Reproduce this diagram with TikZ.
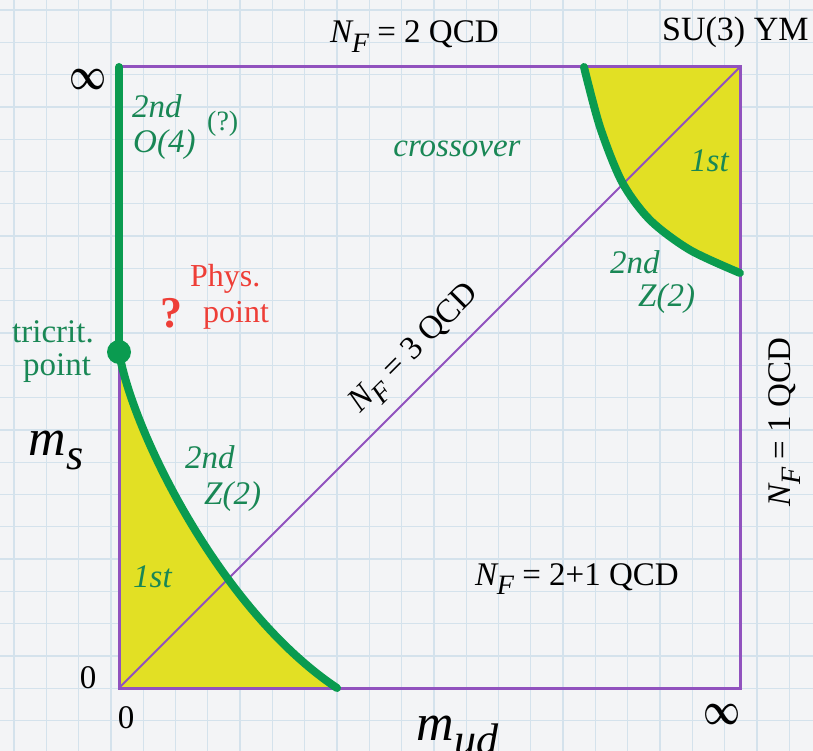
\documentclass[tikz,border=0pt]{standalone}
\usepackage{fontspec}
\setmainfont{Liberation Serif}
\usepackage{graphicx}
\definecolor{bgc}{RGB}{243,244,246}
\definecolor{gridc}{RGB}{212,226,236}
\definecolor{purp}{RGB}{145,82,190}
\definecolor{grn}{RGB}{10,155,80}
\definecolor{grntxt}{RGB}{25,135,85}
\definecolor{yel}{RGB}{226,224,36}
\definecolor{redtxt}{RGB}{238,62,55}
\newcommand\fs[1]{\fontsize{#1}{#1}\selectfont}
\newcommand\nf{\textit{N}\kern-0.06em\raisebox{-0.3em}{\scalebox{0.85}{\textit{F}}}}
\tikzset{
  lbl/.style={inner sep=0pt, text=black, font=\fs{33}},
  gtxt/.style={inner sep=0pt, text=grntxt, font=\fs{33}\itshape},
  gup/.style={inner sep=0pt, text=grntxt, font=\fs{33}},
  rtxt/.style={inner sep=0pt, text=redtxt, font=\fs{32}},
  bigm/.style={inner sep=0pt, text=black, font=\fs{52}\itshape},
  gridline/.style={draw=gridc, line width=1.3pt},
  frame/.style={draw=purp, line width=3pt},
  diag/.style={draw=purp, line width=2pt},
  crit/.style={draw=grn, line width=8pt, line cap=round},
}
\begin{document}
\begin{tikzpicture}[x=1pt,y=-1pt]
\fill[bgc] (0,0) rectangle (813,751);
\useasboundingbox (0,0) rectangle (813,751);
% grid paper
\foreach \i in {0,...,25} \draw[gridline] ({14+32.3*\i},0) -- ({14+32.3*\i},751);
\foreach \i in {0,...,23} \draw[gridline] (0,{10+32.3*\i}) -- (813,{10+32.3*\i});
% corners
\coordinate (O) at (119,688);
\coordinate (TL) at (119,67);
\coordinate (TR) at (740,67);
\coordinate (BR) at (740,688);
\coordinate (tri) at (119,352);
\coordinate (cl) at (337,688);
\coordinate (ct) at (584,67);
\coordinate (cr) at (740,273);
% yellow first-order regions
\fill[yel] (tri) .. controls (132,430) and (220,610) .. (cl) -- (O) -- cycle;
\fill[yel] plot[smooth] coordinates {(584,67) (600,127) (622,182) (650,220) (690,250) (740,273)} -- (TR) -- cycle;
% frame and diagonal
\draw[frame] (TL) rectangle (BR);
\draw[diag] (O) -- (TR);
% critical lines
\draw[crit] (TL) -- (tri);
\draw[crit] (tri) .. controls (132,430) and (220,610) .. (cl);
\draw[crit] plot[smooth] coordinates {(584,67) (600,127) (622,182) (650,220) (690,250) (740,273)};
\fill[grn] (tri) circle (12);
% labels
\node[lbl, anchor=base west] (nf2) at (330,43) {\nf{} = 2 QCD};
\node[lbl, anchor=base west, font=\fs{34}] (su3) at (662,41) {SU(3) YM};
\node[inner sep=0pt] (inftop) at (88,80) {\resizebox{37pt}{20pt}{\boldmath$\infty$}};
\node[inner sep=0pt] (infbot) at (722,714) {\resizebox{37pt}{20pt}{\boldmath$\infty$}};
\node[lbl, anchor=base] (zl) at (88,688) {0};
\node[lbl, anchor=base] (zb) at (126,728) {0};
\node[bigm, anchor=base west] (ms) at (28,455) {m\kern0.02em\raisebox{-0.28em}{\scalebox{0.85}{s}}};
\node[bigm, anchor=base west] (mud) at (416,740) {m\kern0.02em\raisebox{-0.28em}{\scalebox{0.85}{ud}}};
\node[gtxt, anchor=base west] (o4a) at (132,118) {2nd};
\node[gtxt, anchor=base west] (o4b) at (133,153) {O(4)};
\node[gup, anchor=base west, font=\fs{28}] (o4q) at (207,131) {(?)};
\node[gtxt, anchor=base] (cross) at (457,157) {crossover};
\node[gtxt, anchor=base west] (first1) at (690,172) {1st};
\node[gtxt, anchor=base west] (z2a) at (610,273) {2nd};
\node[gtxt, anchor=base west] (z2b) at (638,306) {Z(2)};
\node[gtxt, anchor=base west] (z2c) at (185,468) {2nd};
\node[gtxt, anchor=base west] (z2d) at (204,504) {Z(2)};
\node[gtxt, anchor=base west] (first2) at (133,587) {1st};
\node[gup, anchor=base west] (tc1) at (12,342) {tricrit.};
\node[gup, anchor=base west] (tc2) at (23,375) {point};
\node[rtxt, anchor=base west] (ph1) at (190,286) {Phys.};
\node[rtxt, anchor=base west] (ph2) at (203,322) {point};
\node[rtxt, anchor=base, font=\fs{44}\bfseries] (phq) at (171,327) {?};
\node[lbl, anchor=base west] (nf21) at (475,585) {\nf{} = 2+1 QCD};
\node[lbl, rotate=45] (nf3) at (416,350) {\nf{} = 3 QCD};
\node[lbl, rotate=90] (nf1) at (785,422) {\nf{} = 1 QCD};
\end{tikzpicture}
\end{document}
